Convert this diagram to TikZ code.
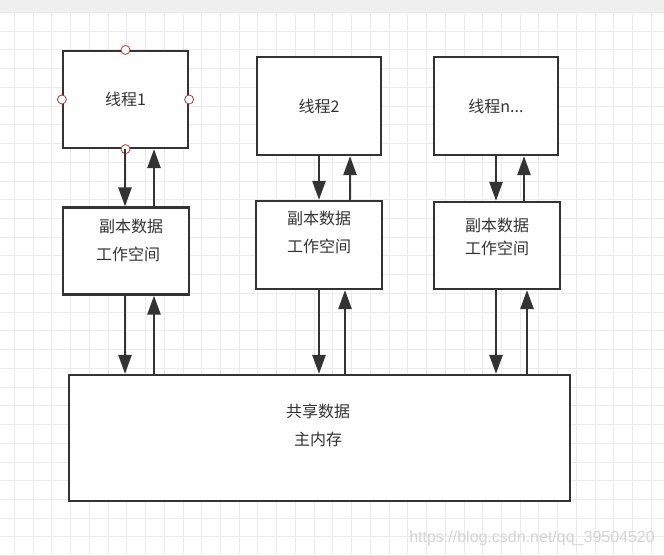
\documentclass[tikz,border=0pt]{standalone}
\usepackage{fontspec}
\newfontfamily\cjk{Noto Sans CJK SC}
\newfontfamily\marksans{Liberation Sans}
\usetikzlibrary{arrows.meta,positioning,calc}
\definecolor{linegray}{RGB}{51,51,51}
\definecolor{gridgray}{RGB}{234,234,234}
\definecolor{topbar}{RGB}{240,240,240}
\definecolor{handlered}{RGB}{165,60,60}
\definecolor{marktext}{RGB}{212,212,212}

\begin{document}
\begin{tikzpicture}[x=1pt,y=-1pt,
    box/.style={draw=linegray,line width=2.2pt,fill=white,inner sep=0pt,
        font=\cjk\fontsize{16}{28}\selectfont,text=linegray,align=center},
    txt/.style={font=\cjk\fontsize{16}{28}\selectfont,text=linegray,align=center,inner sep=0pt},
    flow/.style={draw=linegray,line width=2.6pt,-{Triangle[length=19pt,width=13pt]}},
    handle/.style={circle,draw=handlered,fill=white,line width=0.8pt,inner sep=0pt,minimum size=9pt},
    gridline/.style={draw=gridgray,line width=1pt}]
    % Canvas and grid
    \useasboundingbox (0,0) rectangle (664,556);
    \fill[white] (0,0) rectangle (664,556);
    \foreach \i in {0,...,35}
        \draw[gridline] ({14.5+\i*18.73},12) -- ({14.5+\i*18.73},556);
    \foreach \j in {0,...,29}
        \draw[gridline] (0,{12.5+\j*18.73}) -- (664,{12.5+\j*18.73});
    \fill[topbar] (0,0) rectangle (664,12);
    \draw[gridgray] (0,12) -- (664,12);

    % Threads
    \node[box,minimum width=125,minimum height=97] (t1) at (125.5,99.5) {线程1};
    \node[box,minimum width=124,minimum height=98] (t2) at (319,106) {线程2};
    \node[box,minimum width=124,minimum height=98] (tn) at (496,106) {线程n...};

    % Working copies
    \node[box,minimum width=126,minimum height=87] (c1) at (126,251) {};
    \node[box,minimum width=126,minimum height=88] (c2) at (319,245) {};
    \node[box,minimum width=126,minimum height=87] (cn) at (497,245.5) {};
    \node[txt] (c1txt) at (128,240) {\hspace*{6pt}副本数据\\工作空间};
    \node[txt] (c2txt) at (319,232) {副本数据\\工作空间};
    \node[txt,font=\cjk\fontsize{16}{23}\selectfont] (cntxt) at (497,236.5) {副本数据\\工作空间};

    % Main memory
    \node[box,minimum width=501,minimum height=126] (mem) at (319.5,438) {};
    \node[txt] (memtxt) at (318,425) {共享数据\\主内存};

    % Selection handles on thread 1
    \foreach \a in {north,south,east,west}
        \node[handle] (h\a) at (t1.\a) {};

    % Thread <-> copy
    \draw[flow] (t1.south -| 125,0) -- (c1.north -| 125,0);
    \draw[flow] (c1.north -| 154,0) -- (t1.south -| 154,0);
    \draw[flow] (t2.south -| 319,0) -- (c2.north -| 319,0);
    \draw[flow] (c2.north -| 350,0) -- (t2.south -| 350,0);
    \draw[flow] (tn.south -| 496,0) -- (cn.north -| 496,0);
    \draw[flow] (cn.north -| 524,0) -- (tn.south -| 524,0);

    % Copy <-> main memory
    \draw[flow] (c1.south -| 125,0) -- (mem.north -| 125,0);
    \draw[flow] (mem.north -| 154,0) -- (c1.south -| 154,0);
    \draw[flow] (c2.south -| 319,0) -- (mem.north -| 319,0);
    \draw[flow] (mem.north -| 345,0) -- (c2.south -| 345,0);
    \draw[flow] (cn.south -| 496,0) -- (mem.north -| 496,0);
    \draw[flow] (mem.north -| 527,0) -- (cn.south -| 527,0);

    % Watermark
    \node[font=\marksans\fontsize{16}{18}\selectfont,text=marktext,anchor=east,inner sep=0pt] (mark) at (655,538) {https://blog.csdn.net/qq\_39504520};
\end{tikzpicture}
\end{document}
